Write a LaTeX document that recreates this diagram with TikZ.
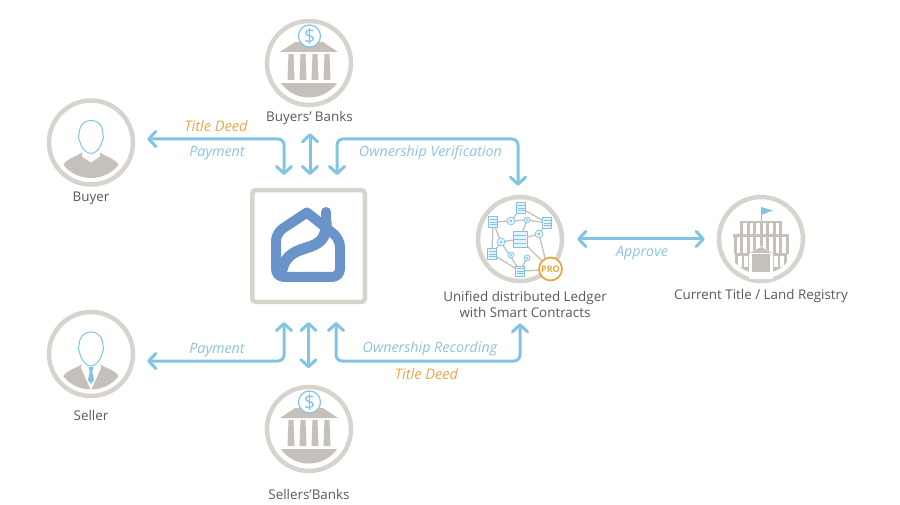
\documentclass[tikz,border=0pt]{standalone}
\usepackage{fontspec}
\setmainfont{Open Sans}
\usetikzlibrary{arrows.meta}
\definecolor{ringgray}{HTML}{D7D3CD}
\definecolor{icongray}{HTML}{C6C0BA}
\definecolor{linkblue}{HTML}{82C4E4}
\definecolor{labelblue}{HTML}{8CC3DE}
\definecolor{deedorange}{HTML}{E9A745}
\definecolor{housechart}{HTML}{6A94C9}
\definecolor{textgray}{HTML}{5C5854}
\tikzset{
  ring/.style={circle, draw=ringgray, line width=4.5pt, fill=white, minimum size=84pt, inner sep=0pt},
  caption/.style={text=textgray, font=\fontsize{13.4}{16}\selectfont, align=center, inner sep=0pt},
  linktext/.style={text=labelblue, font=\fontsize{14.3}{16}\itshape\selectfont, inner sep=0pt},
  deedtext/.style={text=deedorange, font=\fontsize{14.6}{16}\itshape\selectfont, inner sep=0pt},
  link/.style={draw=linkblue, line width=3pt, rounded corners=6pt, line cap=round,
    {Straight Barb[length=7pt,width=15pt,round]}-{Straight Barb[length=7pt,width=15pt,round]}},
  bank/.pic={
    \fill [icongray] (-29,-11) -- (-14,-21) -- (14,-21) -- (29,-11) -- cycle;
    \foreach \colx in {-18,-6,6,18}
      \fill [icongray] (\colx-2.5,-9) -- (\colx+2.5,-9) -- (\colx+3.5,17) -- (\colx-3.5,17) -- cycle;
    \begin{scope}
      \clip (0,0) circle (34.5pt);
      \fill [icongray] (-29,20) rectangle (29,40);
    \end{scope}
    \draw [linkblue, line width=1.2pt, fill=white] (0.5,-27) circle (11pt);
    \node (dollar) [text=linkblue, font=\fontsize{20}{20}\selectfont, inner sep=0pt] at (0.5,-27) {\$};
  },
  person/.pic={
    \begin{scope}
      \clip (0,0) circle (35.5pt);
      \fill [icongray] (-28,24) .. controls (-27,17) and (-16,15) .. (-9,10) -- (9,10)
        .. controls (16,15) and (27,17) .. (28,24) .. controls (28,32) and (12,40) .. (0,40)
        .. controls (-12,40) and (-28,32) .. (-28,24) -- cycle;
    \end{scope}
    \fill [white] (-8,4) -- (-9,14) -- (0,20) -- (9,14) -- (8,4) -- cycle;
    \draw [linkblue, line width=1pt, fill=white] (0,-22) .. controls (-9,-22) and (-12,-15) .. (-12,-8)
      .. controls (-13,-6) and (-13,-3) .. (-11.5,-2) .. controls (-10,5) and (-5,11) .. (0,11)
      .. controls (5,11) and (10,5) .. (11.5,-2) .. controls (13,-3) and (13,-6) .. (12,-8)
      .. controls (12,-15) and (9,-22) .. (0,-22) -- cycle;
  },
  suited/.pic={
    \begin{scope}
      \clip (0,0) circle (35.5pt);
      \fill [icongray] (-28,24) .. controls (-27,17) and (-16,15) .. (-9,10) -- (9,10)
        .. controls (16,15) and (27,17) .. (28,24) .. controls (28,32) and (12,40) .. (0,40)
        .. controls (-12,40) and (-28,32) .. (-28,24) -- cycle;
    \end{scope}
    \fill [white] (-9,8) -- (-10,14) -- (0,36) -- (10,14) -- (9,8) -- cycle;
    \draw [linkblue, line width=1pt, fill=white] (0,-22) .. controls (-9,-22) and (-12,-15) .. (-12,-8)
      .. controls (-13,-6) and (-13,-3) .. (-11.5,-2) .. controls (-10,6) and (-5,12) .. (0,12)
      .. controls (5,12) and (10,6) .. (11.5,-2) .. controls (13,-3) and (13,-6) .. (12,-8)
      .. controls (12,-15) and (9,-22) .. (0,-22) -- cycle;
    \fill [linkblue] (-2.5,13) -- (2.5,13) -- (1.3,18) -- (3,26) -- (0,30) -- (-3,26) -- (-1.3,18) -- cycle;
  },
  ledgerart/.pic={
    \draw [icongray, line width=1.3pt] (1,-31) -- (-9,-18) -- (-27,-17) -- (-28,15) -- (0,32) -- (27,31)
      (1,-31) -- (27,-16) -- (7,-19) -- (-9,-18) (7,-19) -- (0,0) -- (-19,3) -- (-27,-17)
      (-19,3) -- (-28,15) (-19,3) -- (0,32) (0,0) -- (27,27) (27,-16) -- (19,-5) -- (0,0) (19,-5) -- (27,27) (7,19) -- (0,32);
    \foreach \docx/\docy/\docw/\doch in {1/-31/7/11, -27/-17/7/11, 27/-16/7/11, -28/15/7/11, 0/32/7/10, 0/0/12/16} {
      \draw [linkblue, line width=0.7pt, fill=linkblue!20] (\docx-\docw/2-1,\docy-\doch/2) rectangle (\docx+\docw/2+1,\docy+\doch/2);
      \foreach \rowy in {-0.25,0,0.25}
        \draw [linkblue, line width=0.6pt] (\docx-\docw/2,\docy+\rowy*\doch) -- (\docx+\docw/2,\docy+\rowy*\doch);
    }
    \foreach \dotx/\doty/\dotr in {-9/-18/4, 7/-19/3, 19/-5/4, -19/3/4, -9/16/3, 7/19/3} {
      \draw [linkblue, line width=0.7pt, fill=linkblue!20] (\dotx,\doty) circle (\dotr pt);
      \fill [linkblue] (\dotx,\doty) circle (0.35*\dotr pt);
    }
  },
  registryart/.pic={
    \draw [linkblue, line width=0.8pt] (0,-32) -- (0,-17);
    \fill [linkblue] (0,-32) -- (12,-28.5) -- (0,-24) -- cycle;
    \fill [icongray] (-21,-18) rectangle (21,-15.5);
    \foreach \winx in {-19.5,-13,...,20}
      \fill [icongray] (\winx-1.5,-16) rectangle (\winx+1.5,-5);
    \fill [icongray] (-28,-4.5) rectangle (28,-1.5);
    \foreach \winx in {-26,-19.5,...,26.5}
      \fill [icongray] (\winx-1.5,-2) rectangle (\winx+1.5,15);
    \begin{scope}
      \clip (0,0) circle (35pt);
      \fill [icongray] (-26,14) rectangle (26,40);
      \foreach \winx in {-21,-15,15,21}
        \fill [white] (\winx-1.8,17) rectangle (\winx+1.8,28);
    \end{scope}
    \fill [white] (-12,15) -- (0,7) -- (12,15) -- (12,40) -- (-12,40) -- cycle;
    \fill [icongray] (-11,14) -- (0,8) -- (11,14) -- cycle;
    \foreach \doorx in {-6,0,6}
      \fill [icongray] (\doorx-2.6,15) rectangle (\doorx+2.6,33.5);
  },
}

\begin{document}
\begin{tikzpicture}[x=1pt, y=-1pt]
\useasboundingbox (0,0) rectangle (900,505);

\node (hub) [draw=ringgray, line width=4.5pt, fill=white, rounded corners=3pt, minimum width=112.5pt, minimum height=111.5pt, inner sep=0pt] at (308.5,246) {};
\draw [housechart, line width=10pt, line join=round, line cap=round, rounded corners=8pt]
  (326,212) -- (326,224) (307,212.5) -- (276,233) -- (276,277) -- (340,277) -- (340,239) -- (307,212.5);
\draw [housechart, line width=11pt, line cap=round]
  (281,275) .. controls (283,258) and (292,252) .. (306,248) .. controls (320,244) and (327,238) .. (326,222);

\node (buyersbank) [ring] at (309,63) {};
\pic at (309,63) {bank};
\node (buyersname) [caption] at (309.5,118) {Buyers' Banks};

\node (buyer) [ring] at (91,142.5) {};
\pic at (91,142.5) {person};
\node (buyername) [caption] at (91,198) {Buyer};

\node (seller) [ring] at (91,354) {};
\pic at (91,354) {suited};
\node (sellername) [caption] at (91,415) {Seller};

\node (sellersbank) [ring] at (309,429) {};
\pic at (309,429) {bank};
\node (sellersname) [caption] at (309,494) {Sellers'Banks};

\node (ledger) [ring] at (520,239) {};
\pic at (520,239) {ledgerart};
\node (pro) [circle, draw=deedorange, line width=1.8pt, fill=white, minimum size=23pt, inner sep=0pt, text=deedorange, font=\fontsize{9}{9}\bfseries\selectfont] at (550.5,269) {PRO};
\node (ledgername) [caption] at (525,304) {Unified distributed Ledger\\with Smart Contracts};

\node (registry) [ring] at (761,239) {};
\pic at (761,239) {registryart};
\node (registryname) [caption] at (761,296) {Current Title / Land Registry};

\coordinate (buyerbend) at (284,139);
\coordinate (verifyleft) at (337,139);
\coordinate (verifyright) at (518,139);
\coordinate (sellerbend) at (284,361);
\coordinate (recordleft) at (336,361);
\coordinate (recordright) at (520,361);

\draw [link] ([xshift=12pt,yshift=3.5pt]buyer.east) -- (buyerbend) -- ([xshift=-24.5pt,yshift=13pt]hub.north);
\draw [link] ([xshift=1pt,yshift=-26pt]buyersbank.south) -- ([xshift=1.5pt,yshift=13pt]hub.north);
\draw [link] ([xshift=28.5pt,yshift=13pt]hub.north) -- (verifyleft) -- (verifyright) -- ([xshift=-2pt,yshift=9pt]ledger.north);
\draw [link] ([xshift=12pt,yshift=-7pt]seller.east) -- (sellerbend) -- ([xshift=-24.5pt,yshift=-18pt]hub.south);
\draw [link] ([yshift=-18pt]hub.south) -- ([xshift=-0.5pt,yshift=16.5pt]sellersbank.north);
\draw [link] ([xshift=27.5pt,yshift=-18pt]hub.south) -- (recordleft) -- (recordright) -- ([yshift=-40pt]ledger.south);
\draw [link] ([xshift=13pt]ledger.east) -- ([xshift=-12pt]registry.west);

\node (titledeedtop) [deedtext] at (216,126) {Title Deed};
\node (paymenttop) [linktext] at (217,153) {Payment};
\node (verification) [linktext] at (430.5,153) {Ownership Verification};
\node (approve) [linktext] at (642,253) {Approve};
\node (paymentlow) [linktext] at (217,350) {Payment};
\node (recording) [linktext] at (430,349) {Ownership Recording};
\node (titledeedlow) [deedtext] at (426.5,374) {Title Deed};
\end{tikzpicture}
\end{document}
